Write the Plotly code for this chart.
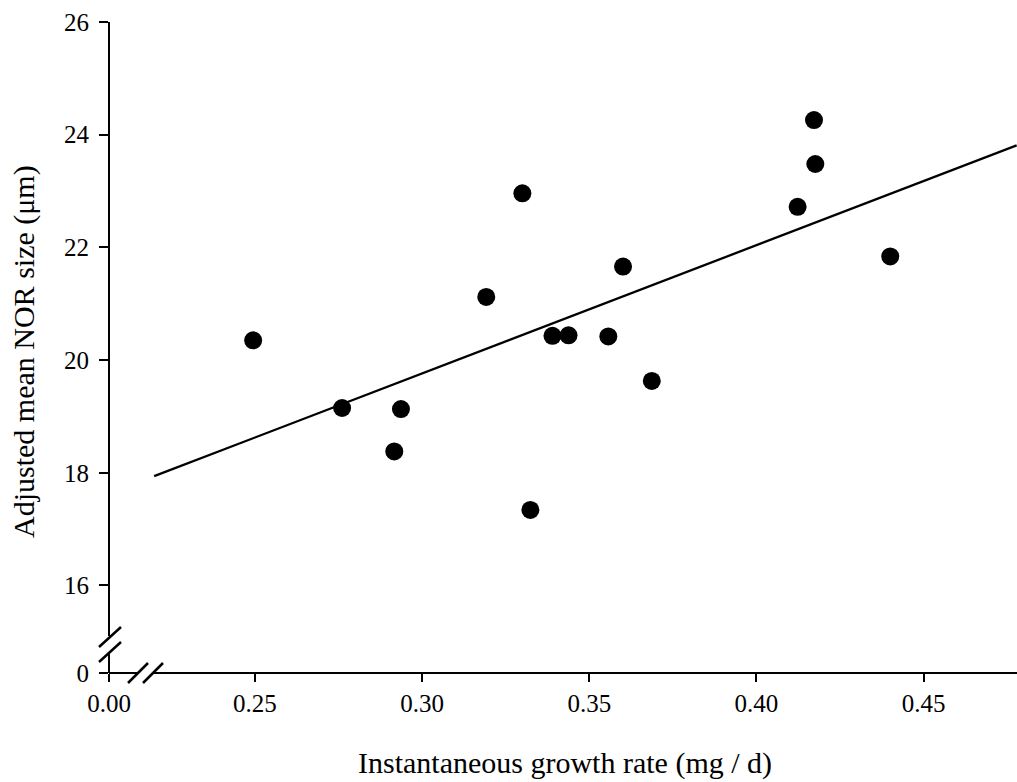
import plotly.graph_objects as go

# ---- data ----
growth_rate = [0.2495, 0.2761, 0.2917, 0.2937, 0.3192, 0.3300, 0.3324, 0.3390,
               0.3438, 0.3557, 0.3601, 0.3687, 0.4123, 0.4172, 0.4176, 0.4400]
nor_size = [20.35, 19.15, 18.38, 19.13, 21.12, 22.96, 17.34, 20.43,
            20.44, 20.42, 21.66, 19.63, 22.72, 24.26, 23.48, 21.84]
fit_x = [0.2199, 0.4778]
fit_y = [17.94, 23.81]

x_tick_vals = [0.25, 0.30, 0.35, 0.40, 0.45]
x_tick_text = ["0.25", "0.30", "0.35", "0.40", "0.45"]
y_tick_vals = [16, 18, 20, 22, 24, 26]
y_tick_text = ["16", "18", "20", "22", "24", "26"]

# broken-axis: position at which the "0" labels are displayed
X_ZERO_AT = 0.2064
Y_ZERO_AT = 14.447
X_MAX = 0.4779
Y_MAX = 26.0

# ---- layout geometry (pixels) ----
W, H = 1017, 782
ML, MR, MT, MB = 109, 0, 22, 109
PW = W - ML - MR
PH = H - MT - MB
FONT = "Liberation Serif, Times New Roman, serif"


def px(xp):
    return (xp - ML) / PW


def py(yp):
    return (H - MB - yp) / PH


fig = go.Figure()
fig.add_trace(go.Scatter(x=fit_x, y=fit_y, mode="lines",
                         line=dict(color="black", width=2.3), showlegend=False,
                         hoverinfo="skip"))
fig.add_trace(go.Scatter(x=growth_rate, y=nor_size, mode="markers",
                         marker=dict(color="black", size=18), showlegend=False))

shapes = []
lw = 2
# y axis (broken)
shapes.append(dict(type="line", xref="paper", yref="paper", x0=0, x1=0,
                   y0=1, y1=py(636), line=dict(color="black", width=lw)))
shapes.append(dict(type="line", xref="paper", yref="paper", x0=0, x1=0,
                   y0=py(653), y1=0, line=dict(color="black", width=lw)))
for cy in (637, 652):
    shapes.append(dict(type="line", xref="paper", yref="paper",
                       x0=px(99), y0=py(cy + 10), x1=px(121), y1=py(cy - 10),
                       line=dict(color="black", width=2.5)))
# x axis (broken)
shapes.append(dict(type="line", xref="paper", yref="paper", x0=0, x1=px(137),
                   y0=0, y1=0, line=dict(color="black", width=lw)))
shapes.append(dict(type="line", xref="paper", yref="paper", x0=px(154), x1=1,
                   y0=0, y1=0, line=dict(color="black", width=lw)))
for cx in (138, 153):
    shapes.append(dict(type="line", xref="paper", yref="paper",
                       x0=px(cx - 10), y0=py(683), x1=px(cx + 10), y1=py(663),
                       line=dict(color="black", width=2.5)))

fig.update_layout(
    width=W, height=H,
    margin=dict(l=ML, r=MR, t=MT, b=MB),
    paper_bgcolor="white", plot_bgcolor="white",
    font=dict(family=FONT, color="black"),
    shapes=shapes,
    xaxis=dict(range=[X_ZERO_AT, X_MAX], showgrid=False, zeroline=False,
               showline=False, ticks="outside", ticklen=8, tickwidth=2,
               tickcolor="black",
               tickmode="array",
               tickvals=[X_ZERO_AT] + x_tick_vals,
               ticktext=["0.00"] + x_tick_text,
               tickfont=dict(family=FONT, size=25, color="black")),
    yaxis=dict(range=[Y_ZERO_AT, Y_MAX], showgrid=False, zeroline=False,
               showline=False, ticks="outside", ticklen=9, tickwidth=2,
               tickcolor="black", ticklabelstandoff=5,
               tickmode="array",
               tickvals=[Y_ZERO_AT] + y_tick_vals,
               ticktext=["0"] + y_tick_text,
               tickfont=dict(family=FONT, size=25, color="black")),
    annotations=[
        dict(text="Instantaneous growth rate (mg / d)", xref="paper", yref="paper",
             x=px(565), y=py(763), xanchor="center", yanchor="middle",
             showarrow=False, font=dict(family=FONT, size=30, color="black")),
        dict(text="Adjusted mean NOR size (\u03bcm)", xref="paper", yref="paper",
             x=px(24), y=py(352), xanchor="center", yanchor="middle",
             textangle=-90, showarrow=False,
             font=dict(family=FONT, size=30, color="black")),
    ],
)

# remove the browser's default 8px body margin so the figure sits at (0, 0)
fig.write_html("out.html",
               config={"displayModeBar": False},
               post_script="document.body.style.margin='0px';"
                           "document.body.style.overflow='hidden';")
